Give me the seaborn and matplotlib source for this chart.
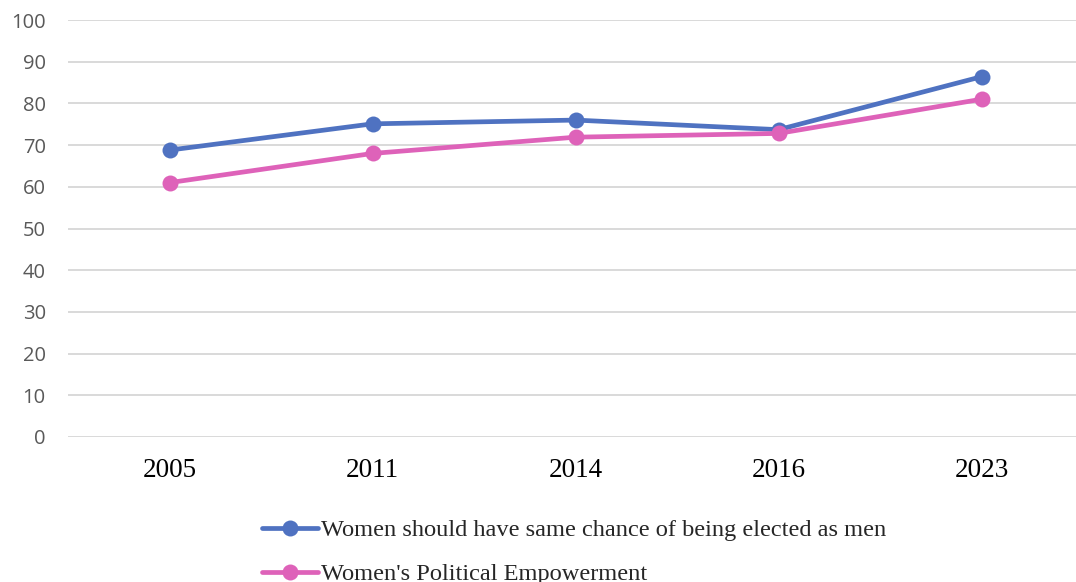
import matplotlib
matplotlib.use("Agg")
import matplotlib.pyplot as plt
import seaborn as sns
import pandas as pd

years = ["2005", "2011", "2014", "2016", "2023"]
same_chance = [68.8, 75.1, 76.0, 73.7, 86.4]
empowerment = [61.0, 68.0, 71.9, 72.8, 81.0]
series_names = ["Women should have same chance of being elected as men",
                "Women's Political Empowerment"]
colors = ["#4F72C1", "#DE62B9"]

df = pd.DataFrame({
    "year": years * 2,
    "value": same_chance + empowerment,
    "series": [series_names[0]] * len(years) + [series_names[1]] * len(years),
})

sns.set_theme(style="white")
W, H = 1076, 582
fig = plt.figure(figsize=(W / 100, H / 100), dpi=100)
left, right, top, bottom = 68, 1083, 20, 437
ax = fig.add_axes([left / W, 1 - bottom / H, (right - left) / W, (bottom - top) / H])

sns.lineplot(data=df, x="year", y="value", hue="series", palette=colors,
             marker="o", markersize=11.5, linewidth=3.4, markeredgewidth=0,
             sort=False, ax=ax, legend=True)

ax.set_ylim(0, 100)
ax.set_xlim(-0.5, 4.5)
ax.set_yticks(range(0, 101, 10))
ax.grid(axis="y", color="#D9D9D9", linewidth=1.4)
ax.set_axisbelow(True)
for s in ax.spines.values():
    s.set_visible(False)
ax.tick_params(axis="both", length=0)
ax.tick_params(axis="y", pad=16, labelsize=14.5, labelcolor="#595959")
ax.tick_params(axis="x", pad=15, labelsize=19.5, labelcolor="black")
for t in ax.get_yticklabels():
    t.set_fontfamily("Open Sans")
for t in ax.get_xticklabels():
    t.set_fontfamily("Liberation Serif")
ax.set_xlabel("")
ax.set_ylabel("")

handles, labels = ax.get_legend_handles_labels()
ax.get_legend().remove()
fig.legend(handles, labels, loc="upper left",
           bbox_to_anchor=(262 / W, 1 - 519 / H), frameon=False,
           borderpad=0, borderaxespad=0, handlelength=2.3, handletextpad=0.1,
           labelspacing=0.9, prop={"family": "Liberation Serif", "size": 17.6})

fig.savefig("out.png", dpi=100)
